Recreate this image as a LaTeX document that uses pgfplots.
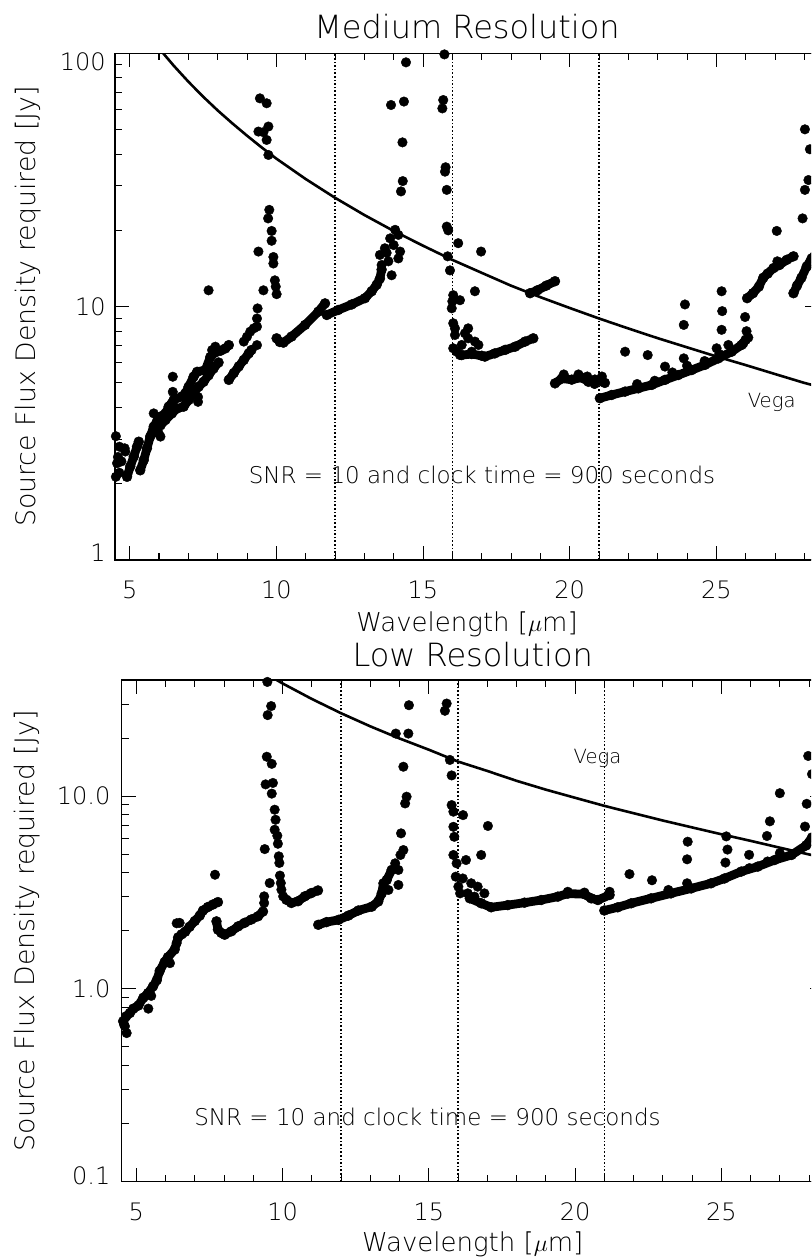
\documentclass[border=0pt]{standalone}
\usepackage{pgfplots}
\pgfplotsset{compat=1.18}
\usepackage{fontspec}
\IfFontExistsTF{DejaVu Sans ExtraLight}{\setmainfont{DejaVu Sans ExtraLight}}{\setmainfont{DejaVu Sans}}

\begin{document}
\begin{tikzpicture}
\useasboundingbox (0,0) rectangle (405.5pt,629pt);
\clip (0,0) rectangle (405.5pt,629pt);

%================ Medium Resolution ================
\begin{axis}[
  scale only axis, ymode=log, xmin=4.5, xmax=28.5,
  axis line style={line width=0.7pt, black},
  tick align=inside, xtick pos=both, ytick pos=both,
  xticklabel pos=lower, yticklabel pos=left,
  major tick length=7pt, minor tick length=3.5pt,
  every tick/.style={black, line width=0.5pt},
  xtick={5,10,15,20,25}, xticklabels={5,10,15,20,25},
  minor xtick={5,6,...,28},
  tick label style={font=\fontsize{12}{14}\selectfont},
  xticklabel style={anchor=base, inner sep=0pt, yshift=-19.15pt},
  title style={font=\fontsize{16}{19}\selectfont, anchor=base, inner sep=0pt, at={(axis description cs:0.5,1)}, yshift=1.5pt},
  xlabel style={font=\fontsize{13}{15}\selectfont, anchor=base, inner sep=0pt, at={(axis description cs:0.5,0)}, yshift=-36pt},
  ylabel style={font=\fontsize{13.4}{15}\selectfont, anchor=base, inner sep=0pt, at={(axis description cs:-0.1136,0.5)}},
  xlabel={Wavelength [$\mu$m]},
  ylabel={Source Flux Density required [Jy]},
  at={(57.5pt,349pt)}, anchor=south west,
  width=352pt, height=253.35pt,
  ymin=1, ymax=100,
  ytick={1,10,100},
  yticklabels={{\raisebox{3.8pt}[\height][\depth]{1}},10,{\raisebox{-4pt}[\height][\depth]{100}}},
  minor ytick={2,3,4,5,6,7,8,9,20,30,40,50,60,70,80,90},
  yticklabel style={anchor=east, inner sep=0pt, xshift=-4.5pt},
  title={Medium Resolution},
]
\addplot[black, line width=0.8pt, dash pattern=on 0.8pt off 1pt] coordinates {(12,1) (12,100)};
\addplot[black, line width=0.8pt, dash pattern=on 0.8pt off 1pt] coordinates {(16,1) (16,100)};
\addplot[black, line width=0.8pt, dash pattern=on 0.8pt off 1pt] coordinates {(21,1) (21,100)};

\addplot[black, line width=1.3pt] coordinates {
(5.0,149.5) (5.5,124.1) (6.0,104.6) (6.5,89.4) (7.0,77.3) (7.5,67.5) (8.0,59.5)
(8.5,52.9) (9.0,47.3) (9.5,42.5) (10,38.4) (11,31.9) (12,26.9) (13,23.0)
(14,19.9) (15,17.4) (16,15.3) (17,13.6) (18,12.1) (19,10.9) (20,9.88)
(21,8.98) (22,8.20) (23,7.51) (24,6.91) (25,6.36) (26,5.88) (27,5.42)
(28,5.00) (28.5,4.83)};

\addplot[black, only marks, mark=*, mark size=2.4pt, mark options={line width=0.2pt}] table {
x y
4.53 3.08
4.65 2.80
4.83 2.76
4.85 2.68
4.57 2.41
4.60 2.55
4.65 2.21
4.53 2.13
4.72 2.45
5.82 3.79
5.99 3.16
6.05 3.07
6.47 5.29
6.47 4.61
7.33 4.40
7.33 4.21
7.69 11.6
7.81 6.74
7.92 6.95
8.89 7.28
9.00 7.61
9.11 7.97
9.23 8.21
9.34 8.34
9.34 8.98
9.36 9.84
9.34 7.05
9.44 66.4
9.67 63.5
9.39 49.1
9.56 48.8
9.73 51.4
9.67 45.5
9.73 39.7
9.76 24.1
9.72 22.3
9.84 19.9
9.84 18.2
9.90 15.7
9.90 14.8
9.95 12.7
9.98 12.0
10.01 11.2
9.39 16.5
9.56 11.6
13.59 14.6
13.53 16.0
13.70 17.0
13.88 18.6
14.05 20.1
14.16 19.2
14.22 16.5
14.16 15.5
13.93 13.3
13.82 15.1
13.76 16.3
14.00 17.5
13.91 62.5
14.35 64.5
14.42 92.1
14.30 44.5
14.31 31.3
14.25 28.5
15.73 99
15.69 65.4
15.66 60.6
15.75 34.1
15.77 35.5
15.81 28.9
15.81 20.7
15.86 20.0
16.20 17.8
15.84 15.8
15.92 13.9
16.03 11.1
16.00 10.5
16.26 10.6
15.98 9.85
16.03 8.6
16.09 8.21
16.09 7.73
16.03 6.85
16.15 6.64
16.26 6.44
16.98 16.5
16.77 11.5
16.54 8.21
16.43 7.85
16.32 7.06
16.54 7.50
16.77 7.28
16.89 7.06
16.66 6.64
19.80 5.40
20.30 5.40
20.60 5.30
21.10 5.30
20.85 4.95
22.30 4.95
22.90 5.10
23.50 5.50
24.00 5.85
24.60 6.10
25.10 6.50
21.89 6.64
22.66 6.44
23.25 5.80
23.89 6.25
23.89 8.47
23.93 10.2
25.18 11.5
25.20 9.6
25.18 8.1
25.01 6.85
25.41 7.06
25.98 9.1
26.03 8.0
26.09 7.55
25.92 7.16
27.06 19.9
27.08 15.1
27.94 22.3
28.02 28.9
28.14 31.6
28.19 41.8
28.02 50.1
};

\addplot[black, line width=4.4pt, line cap=round, line join=round, mark=*, mark size=2.5pt, mark options={solid, line width=0.2pt}] coordinates {(4.91,2.13) (5.02,2.34) (5.14,2.56) (5.25,2.80) (5.31,2.93)};
\addplot[black, line width=4.4pt, line cap=round, line join=round, mark=*, mark size=2.5pt, mark options={solid, line width=0.2pt}] coordinates {(5.36,2.26) (5.48,2.48) (5.59,2.76) (5.70,3.07) (5.82,3.36) (5.93,3.52) (6.05,3.68) (6.22,3.79) (6.33,4.03) (6.50,4.28) (6.78,4.42) (6.90,4.55) (7.01,4.83) (7.18,5.29) (7.30,5.53) (7.58,5.62) (7.75,6.33) (7.92,6.6) (8.10,6.7) (8.26,6.84) (8.38,7.05)};
\addplot[black, line width=4.4pt, line cap=round, line join=round, mark=*, mark size=2.5pt, mark options={solid, line width=0.2pt}] coordinates {(6.05,3.40) (6.22,3.57) (6.44,3.79) (6.61,3.96) (6.84,4.03) (7.01,4.28) (7.18,4.55) (7.35,4.83) (7.52,5.05) (7.69,5.36) (7.86,5.70) (8.03,6.02)};
\addplot[black, line width=4.4pt, line cap=round, line join=round, mark=*, mark size=2.5pt, mark options={solid, line width=0.2pt}] coordinates {(8.38,5.14) (8.55,5.47) (8.72,5.81) (8.89,6.16) (9.06,6.54) (9.15,6.74)};
\addplot[black, line width=4.4pt, line cap=round, line join=round, mark=*, mark size=2.5pt, mark options={solid, line width=0.2pt}] coordinates {(10.01,7.50) (10.12,7.25) (10.24,7.21) (10.52,7.62) (10.98,8.47) (11.43,9.55) (11.66,10.3)};
\addplot[black, line width=4.4pt, line cap=round, line join=round, mark=*, mark size=2.5pt, mark options={solid, line width=0.2pt}] coordinates {(11.72,9.27) (12.11,9.70) (12.57,10.2) (13.02,10.8) (13.25,11.5) (13.42,12.2) (13.53,12.9) (13.59,14.0)};
\addplot[black, line width=4.4pt, line cap=round, line join=round, mark=*, mark size=2.5pt, mark options={solid, line width=0.2pt}] coordinates {(16.32,6.44) (16.66,6.50) (17.00,6.40) (17.11,6.35) (17.45,6.54) (17.80,6.75) (18.14,6.95) (18.48,7.28) (18.76,7.50)};
\addplot[black, line width=4.4pt, line cap=round, line join=round, mark=*, mark size=2.5pt, mark options={solid, line width=0.2pt}] coordinates {(18.65,11.3) (18.90,11.6) (19.20,12.1) (19.50,12.6)};
\addplot[black, line width=4.4pt, line cap=round, line join=round, mark=*, mark size=2.5pt, mark options={solid, line width=0.2pt}] coordinates {(19.50,4.98) (19.73,5.20) (20.07,5.15) (20.41,5.25) (20.64,5.05) (20.86,5.15) (21.20,5.00)};
\addplot[black, line width=4.4pt, line cap=round, line join=round, mark=*, mark size=2.5pt, mark options={solid, line width=0.2pt}] coordinates {(21.03,4.35) (21.43,4.48) (21.89,4.62) (22.34,4.76) (22.80,4.91) (23.25,5.14) (23.70,5.37) (24.16,5.62) (24.61,5.89) (25.07,6.25) (25.52,6.64) (25.86,7.06) (26.00,7.40)};
\addplot[black, line width=4.4pt, line cap=round, line join=round, mark=*, mark size=2.5pt, mark options={solid, line width=0.2pt}] coordinates {(26.05,10.8) (26.25,11.3) (26.45,12.0) (26.60,13.0) (26.75,13.5) (26.95,14.2) (27.15,14.6) (27.40,15.3) (27.63,15.8)};
\addplot[black, line width=4.4pt, line cap=round, line join=round, mark=*, mark size=2.5pt, mark options={solid, line width=0.2pt}] coordinates {(27.63,11.3) (27.75,12.1) (27.90,13.0) (28.08,14.4) (28.25,15.5) (28.45,16.5)};

\node[font=\fontsize{11.5}{14}\selectfont, anchor=base, inner sep=0pt] at (rel axis cs:0.5213,0.15) {SNR = 10 and clock time = 900 seconds};
\node[font=\fontsize{9.8}{12}\selectfont, anchor=base, inner sep=0pt] at (rel axis cs:0.9328,0.30) {Vega};
\end{axis}

%================ Low Resolution ================
\begin{axis}[
  scale only axis, ymode=log, xmin=4.5, xmax=28.5,
  axis line style={line width=0.7pt, black},
  tick align=inside, xtick pos=both, ytick pos=both,
  xticklabel pos=lower, yticklabel pos=left,
  major tick length=7pt, minor tick length=3.5pt,
  every tick/.style={black, line width=0.5pt},
  xtick={5,10,15,20,25}, xticklabels={5,10,15,20,25},
  minor xtick={5,6,...,28},
  tick label style={font=\fontsize{12}{14}\selectfont},
  xticklabel style={anchor=base, inner sep=0pt, yshift=-19.15pt},
  title style={font=\fontsize{16}{19}\selectfont, anchor=base, inner sep=0pt, at={(axis description cs:0.5,1)}, yshift=1pt},
  xlabel style={font=\fontsize{13}{15}\selectfont, anchor=base, inner sep=0pt, at={(axis description cs:0.5,0)}, yshift=-35pt},
  ylabel style={font=\fontsize{13.4}{15}\selectfont, anchor=base, inner sep=0pt, at={(axis description cs:-0.1235,0.5)}},
  xlabel={Wavelength [$\mu$m]},
  ylabel={Source Flux Density required [Jy]},
  at={(60.85pt,38.15pt)}, anchor=south west,
  width=351pt, height=250.85pt,
  ymin=0.1, ymax=40,
  ytick={0.1,1,10},
  yticklabels={{\raisebox{3pt}[\height][\depth]{0.1}},1.0,10.0},
  minor ytick={0.2,0.3,0.4,0.5,0.6,0.7,0.8,0.9,2,3,4,5,6,7,8,9,20,30},
  yticklabel style={anchor=east, inner sep=0pt, xshift=-5.5pt},
  title={Low Resolution},
]
\addplot[black, line width=0.8pt, dash pattern=on 0.8pt off 1pt] coordinates {(12,0.1) (12,40)};
\addplot[black, line width=0.8pt, dash pattern=on 0.8pt off 1pt] coordinates {(16,0.1) (16,40)};
\addplot[black, line width=0.8pt, dash pattern=on 0.8pt off 1pt] coordinates {(21,0.1) (21,40)};

\addplot[black, line width=1.3pt] coordinates {
(8.5,52.9) (9.0,47.3) (9.5,42.5) (10,38.4) (11,31.9) (12,26.9) (13,23.0)
(14,19.9) (15,17.4) (16,15.1) (17,13.5) (18,12.0) (19,10.8) (20,9.8)
(21,8.9) (22,8.15) (23,7.47) (24,6.88) (25,6.34) (26,5.86) (27,5.40)
(28,4.98) (28.5,4.80)};

\addplot[black, only marks, mark=*, mark size=2.4pt, mark options={line width=0.2pt}] table {
x y
4.61 0.64
4.67 0.59
4.58 0.653
5.41 0.79
5.51 0.92
6.15 1.36
6.38 2.19
6.48 2.20
6.38 1.73
7.69 3.91
9.37 2.79
9.37 3.02
9.56 3.54
9.39 5.31
9.48 39.1
9.61 29.3
9.49 26.3
9.46 16.0
9.63 14.7
9.42 11.5
9.63 10.3
9.67 11.7
9.73 8.5
9.76 7.54
9.73 6.69
9.82 6.23
9.84 5.66
9.87 4.87
9.89 4.5
9.91 3.87
9.94 3.54
9.96 3.27
10.02 3.02
13.96 4.14
13.85 4.48
14.03 4.95
14.13 5.25
14.05 6.41
14.19 9.16
14.24 9.93
14.13 14.2
13.87 21.1
14.30 21.1
14.32 29.6
13.96 3.46
13.62 3.26
15.61 30.2
15.55 27.7
15.72 15.4
15.78 12.8
15.78 8.98
15.84 8.3
16.17 7.97
15.84 6.93
15.87 6.15
15.84 4.95
15.95 4.48
15.92 3.82
16.01 3.39
16.07 3.13
17.02 7.00
16.79 4.95
16.27 4.66
16.16 3.74
16.45 3.53
16.67 3.39
16.90 3.13
16.56 3.01
16.33 3.13
19.75 3.19
20.32 3.16
21.18 3.19
21.86 3.94
22.63 3.66
23.19 3.26
23.85 5.80
23.83 4.70
23.83 3.53
25.17 6.18
25.21 5.28
25.14 4.52
25.95 4.96
25.96 4.23
26.66 7.40
26.56 6.21
27.00 10.35
27.97 16.15
28.10 13.0
27.92 9.12
27.86 6.95
27.00 5.06
26.58 4.58
};

\addplot[black, line width=4.4pt, line cap=round, line join=round, mark=*, mark size=2.5pt, mark options={solid, line width=0.2pt}] coordinates {(4.55,0.68) (4.65,0.72) (4.78,0.75) (4.90,0.79) (5.07,0.82) (5.24,0.90) (5.40,0.95) (5.57,1.03) (5.70,1.11) (5.80,1.24) (5.97,1.38) (6.08,1.46) (6.31,1.60) (6.43,1.85) (6.55,1.92) (6.67,1.98) (6.82,2.10) (7.00,2.25) (7.17,2.40) (7.28,2.55) (7.45,2.66) (7.62,2.74) (7.79,2.82)};
\addplot[black, line width=4.4pt, line cap=round, line join=round, mark=*, mark size=2.5pt, mark options={solid, line width=0.2pt}] coordinates {(7.74,2.24) (7.79,2.03) (7.91,1.95) (8.02,1.91) (8.25,1.99) (8.48,2.11) (8.70,2.20) (8.93,2.29) (9.16,2.38) (9.33,2.52)};
\addplot[black, line width=4.4pt, line cap=round, line join=round, mark=*, mark size=2.5pt, mark options={solid, line width=0.2pt}] coordinates {(10.13,2.90) (10.30,2.79) (10.53,2.85) (10.76,3.02) (10.98,3.14) (11.21,3.24)};
\addplot[black, line width=4.4pt, line cap=round, line join=round, mark=*, mark size=2.5pt, mark options={solid, line width=0.2pt}] coordinates {(11.22,2.15) (11.50,2.22) (11.91,2.28) (12.25,2.40) (12.59,2.55) (13.05,2.67) (13.27,2.84) (13.39,3.13) (13.45,3.53) (13.56,3.67) (13.73,4.14)};
\addplot[black, line width=4.4pt, line cap=round, line join=round, mark=*, mark size=2.5pt, mark options={solid, line width=0.2pt}] coordinates {(16.40,2.95) (16.79,2.78) (17.13,2.65) (17.70,2.72) (18.27,2.80) (18.84,2.89) (19.41,3.01) (19.75,3.12) (20.32,3.10) (20.55,2.95) (20.78,2.89) (21.18,3.07)};
\addplot[black, line width=4.4pt, line cap=round, line join=round, mark=*, mark size=2.5pt, mark options={solid, line width=0.2pt}] coordinates {(21.00,2.55) (21.46,2.65) (21.92,2.78) (22.60,2.95) (23.28,3.13) (23.97,3.32) (24.65,3.53) (25.11,3.74) (25.68,4.06) (26.25,4.31) (26.82,4.66) (27.40,4.95) (27.90,5.55) (28.10,6.10) (28.45,6.60)};

\node[font=\fontsize{11.5}{14}\selectfont, anchor=base, inner sep=0pt] at (rel axis cs:0.4356,0.113) {SNR = 10 and clock time = 900 seconds};
\node[font=\fontsize{9.8}{12}\selectfont, anchor=base, inner sep=0pt] at (rel axis cs:0.6778,0.834) {Vega};
\end{axis}
\end{tikzpicture}
\end{document}
